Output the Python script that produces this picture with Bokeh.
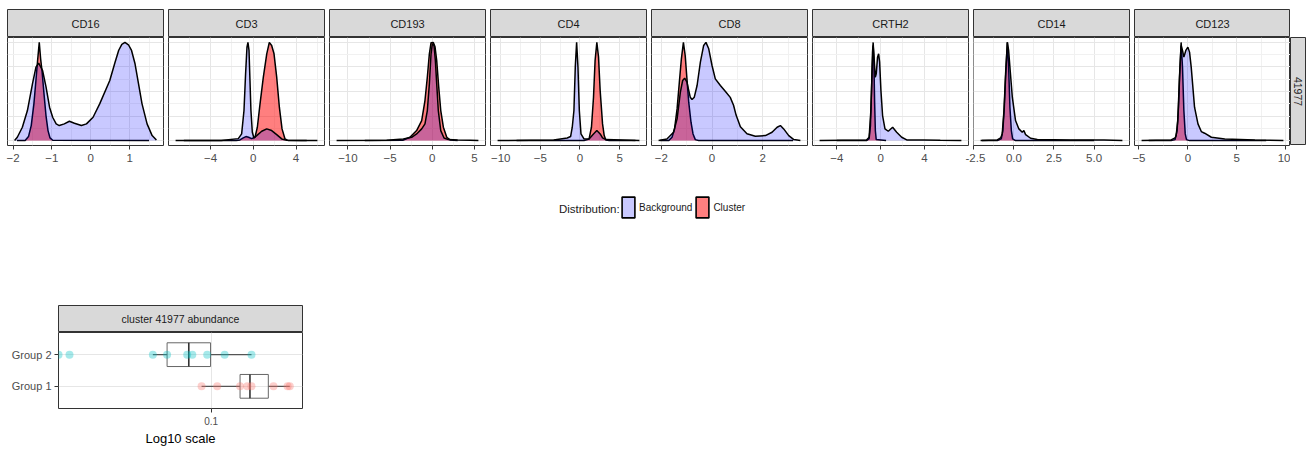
import numpy as np
from bokeh.plotting import figure
from bokeh.models import (Range1d, FixedTicker, Grid, Label, Legend, LegendItem,
                          FactorRange, Spacer)
from bokeh.layouts import row, column
from bokeh.embed import file_html
from bokeh.resources import INLINE

FONT = "Liberation Sans"

# ---------------- data ----------------
markers = ["CD16", "CD3", "CD193", "CD4", "CD8", "CRTH2", "CD14", "CD123"]
cluster_id = "41977"

cd16_bg_x = [-1.96, -1.89, -1.76, -1.63, -1.50, -1.41, -1.34, -1.24, -1.15, -1.06, -0.98, -0.89, -0.81,
             -0.68, -0.55, -0.42, -0.24, -0.11, 0.06, 0.23, 0.49, 0.62, 0.72, 0.80, 0.88, 0.97, 1.05,
             1.14, 1.23, 1.32, 1.45, 1.58, 1.69]
cd16_bg_y = [0.0, 0.034, 0.136, 0.306, 0.578, 0.748, 0.789, 0.714, 0.544, 0.340, 0.238, 0.170, 0.153,
             0.170, 0.197, 0.177, 0.153, 0.170, 0.238, 0.374, 0.612, 0.79, 0.92, 0.98, 1.0, 0.976, 0.918,
             0.782, 0.578, 0.374, 0.17, 0.051, 0.005]
cd16_cl_x = [-1.90, -1.688, -1.602, -1.532, -1.463, -1.411, -1.368, -1.325, -1.290, -1.255, -1.203,
             -1.152, -1.100, -1.048, -0.978, 1.5]
cd16_cl_y = [0, 0, 0.041, 0.153, 0.374, 0.612, 0.816, 1.0, 0.833, 0.714, 0.476, 0.255, 0.102, 0.027,
             0.003, 0]

cd3_bg_x = [-7.27, -3.0, -1.40, -1.09, -0.87, -0.72, -0.59, -0.50, -0.40, -0.31, -0.22, -0.09, 0.06,
            0.32, 0.79, 1.26, 1.72, 2.19, 2.66, 3.13, 4.5, 6.0]
cd3_bg_y = [0, 0.002, 0.02, 0.068, 0.306, 0.68, 0.952, 1.0, 0.918, 0.612, 0.306, 0.085, 0.027, 0.051,
            0.095, 0.119, 0.102, 0.061, 0.017, 0.003, 0.002, 0]
cd3_cl_x = [-6.5, -1.6, -1.25, -0.94, -0.69, -0.44, -0.16, 0.16, 0.38, 0.63, 0.94, 1.26, 1.50, 1.72,
            1.94, 2.19, 2.44, 2.69, 2.97, 3.28, 5.0]
cd3_cl_y = [0, 0, 0.007, 0.027, 0.041, 0.034, 0.02, 0.034, 0.136, 0.374, 0.646, 0.884, 1.0, 0.969,
            0.884, 0.646, 0.340, 0.119, 0.017, 0, 0]

cd193_bg_x = [-11.34, -5.41, -3.44, -2.45, -1.86, -1.26, -0.87, -0.59, -0.35, -0.15, 0.0, 0.20, 0.36,
              0.52, 0.71, 1.0, 1.39, 1.90, 3.0, 4.5, 5.46]
cd193_bg_y = [0, 0.003, 0.017, 0.034, 0.068, 0.119, 0.170, 0.306, 0.578, 0.884, 0.986, 0.969, 0.816,
              0.578, 0.306, 0.102, 0.027, 0.01, 0.005, 0.004, 0]
cd193_cl_x = [-8.0, -3.5, -2.65, -1.86, -1.26, -0.87, -0.59, -0.35, -0.15, 0.12, 0.32, 0.52, 0.76, 1.0,
              1.31, 1.71, 2.10, 3.0]
cd193_cl_y = [0, 0.003, 0.034, 0.102, 0.204, 0.408, 0.646, 0.884, 0.997, 1.0, 0.956, 0.816, 0.544,
              0.306, 0.136, 0.034, 0.007, 0]

cd4_bg_x = [-10.39, -3.31, -1.61, -1.18, -0.97, -0.76, -0.59, -0.42, -0.25, -0.08, 0.13, 0.51, 1.15,
            1.71, 2.13, 2.55, 2.85, 3.27, 7.5]
cd4_bg_y = [0, 0.007, 0.027, 0.041, 0.136, 0.306, 0.748, 1.0, 0.748, 0.306, 0.068, 0.017, 0.017,
            0.068, 0.102, 0.068, 0.027, 0.01, 0]
cd4_cl_x = [-8.0, 0.51, 1.15, 1.45, 1.71, 1.91, 2.13, 2.34, 2.55, 2.85, 3.06, 3.27, 3.7, 7.0]
cd4_cl_y = [0, 0, 0.017, 0.136, 0.442, 0.816, 1.0, 0.854, 0.510, 0.170, 0.051, 0.007, 0, 0]

cd8_bg_x = [-2.11, -1.78, -1.52, -1.38, -1.25, -1.16, -1.08, -0.99, -0.92, -0.86, -0.79, -0.70, -0.59,
            -0.46, -0.33, -0.24, -0.13, 0.0, 0.13, 0.33, 0.53, 0.72, 0.85, 0.95, 1.12, 1.38, 1.71,
            2.11, 2.37, 2.57, 2.70, 2.83, 3.03, 3.23, 3.49]
cd8_bg_y = [0, 0.017, 0.085, 0.221, 0.493, 0.612, 0.636, 0.595, 0.51, 0.442, 0.418, 0.442, 0.561,
            0.799, 0.969, 1.0, 0.935, 0.765, 0.629, 0.561, 0.50, 0.44, 0.36, 0.26, 0.14, 0.07, 0.044,
            0.051, 0.085, 0.136, 0.153, 0.119, 0.051, 0.01, 0]
cd8_cl_x = [-2.05, -1.715, -1.58, -1.48, -1.38, -1.29, -1.21, -1.13, -1.06, -0.99, -0.92, -0.83,
            -0.75, -0.66, -0.53, 3.2]
cd8_cl_y = [0, 0, 0.034, 0.119, 0.323, 0.595, 0.833, 1.0, 0.867, 0.629, 0.391, 0.187, 0.068, 0.01,
            0, 0]

crth2_bg_x = [-5.58, -1.29, -1.05, -0.89, -0.77, -0.68, -0.59, -0.49, -0.40, -0.28, -0.18, -0.09,
              0.03, 0.18, 0.40, 0.70, 1.10, 1.47, 1.93, 2.39, 3.92, 5.46, 7.39]
crth2_bg_y = [0, 0.007, 0.034, 0.306, 0.748, 0.969, 0.833, 0.646, 0.680, 0.850, 0.884, 0.799, 0.510,
              0.255, 0.119, 0.095, 0.136, 0.085, 0.034, 0.007, 0.007, 0.003, 0]
crth2_cl_x = [-4.0, -1.29, -1.05, -0.93, -0.83, -0.74, -0.68, -0.62, -0.55, -0.48, -0.40, 0.5]
crth2_cl_y = [0, 0, 0.02, 0.15, 0.5, 0.9, 1.0, 0.85, 0.4, 0.1, 0.01, 0]

cd14_bg_x = [-2.08, -1.04, -0.83, -0.73, -0.62, -0.52, -0.41, -0.33, -0.25, -0.10, 0.10, 0.31, 0.52,
             0.62, 0.73, 1.04, 1.46, 3.54, 5.62, 6.77]
cd14_bg_y = [0, 0.007, 0.027, 0.068, 0.306, 0.680, 1.0, 0.918, 0.748, 0.442, 0.204, 0.119, 0.085,
             0.102, 0.061, 0.024, 0.01, 0.007, 0.007, 0]
cd14_cl_x = [-2.0, -1.04, -0.79, -0.69, -0.60, -0.52, -0.41, -0.33, -0.25, -0.16, -0.08, 0.10, 5.0]
cd14_cl_y = [0, 0, 0.017, 0.102, 0.340, 0.646, 1.0, 0.748, 0.340, 0.102, 0.017, 0, 0]

cd123_bg_x = [-4.73, -1.72, -1.31, -1.20, -1.03, -0.86, -0.69, -0.55, -0.41, -0.21, 0.0, 0.17, 0.34,
              0.68, 1.03, 1.37, 1.71, 2.40, 3.77, 6.85, 9.76]
cd123_bg_y = [0, 0.007, 0.027, 0.051, 0.204, 0.646, 0.969, 0.918, 0.850, 0.918, 0.952, 0.901, 0.748,
              0.340, 0.170, 0.092, 0.075, 0.034, 0.017, 0.007, 0]
cd123_cl_x = [-4.0, -1.72, -1.31, -1.10, -0.96, -0.82, -0.69, -0.55, -0.41, -0.27, -0.14, 0.17, 8.0]
cd123_cl_y = [0, 0, 0.01, 0.102, 0.340, 0.714, 1.0, 0.748, 0.306, 0.068, 0.01, 0, 0]

# x tick labels of each facet
cd16_ticks = [-2, -1, 0, 1]
cd3_ticks = [-4, 0, 4]
cd193_ticks = [-10, -5, 0, 5]
cd4_ticks = [-10, -5, 0, 5]
cd8_ticks = [-2, 0, 2]
crth2_ticks = [-4, 0, 4]
cd14_ticks = [-2.5, 0.0, 2.5, 5.0]
cd123_ticks = [-5, 0, 5, 10]
density_ticks = [0, 0.25, 0.5, 0.75, 1.0]

# abundance box plot (log10 scale)
group_names = ["Group 1", "Group 2"]
group1_values = [0.0946, 0.1035, 0.118, 0.123, 0.126, 0.143, 0.155, 0.157]
group2_values = [0.0416, 0.0443, 0.0715, 0.0776, 0.0871, 0.0897, 0.0977, 0.108, 0.126]
box_q1 = [0.118, 0.0776]
box_median = [0.1249, 0.0879]
box_q3 = [0.1388, 0.0996]
box_lower = [0.0946, 0.0715]
box_upper = [0.157, 0.126]
abundance_ticks = [0.1]

legend_labels = ["Background", "Cluster"]

panels = [
    (cd16_bg_x, cd16_bg_y, cd16_cl_x, cd16_cl_y, cd16_ticks),
    (cd3_bg_x, cd3_bg_y, cd3_cl_x, cd3_cl_y, cd3_ticks),
    (cd193_bg_x, cd193_bg_y, cd193_cl_x, cd193_cl_y, cd193_ticks),
    (cd4_bg_x, cd4_bg_y, cd4_cl_x, cd4_cl_y, cd4_ticks),
    (cd8_bg_x, cd8_bg_y, cd8_cl_x, cd8_cl_y, cd8_ticks),
    (crth2_bg_x, crth2_bg_y, crth2_cl_x, crth2_cl_y, crth2_ticks),
    (cd14_bg_x, cd14_bg_y, cd14_cl_x, cd14_cl_y, cd14_ticks),
    (cd123_bg_x, cd123_bg_y, cd123_cl_x, cd123_cl_y, cd123_ticks),
]

# ---------------- styling ----------------
BG_COLOR, BG_ALPHA = "blue", 0.21
CL_COLOR, CL_ALPHA = "red", 0.5
STRIP_FILL = "#D9D9D9"
BORDER = "#333333"
GRID_MAJOR = "#E6E6E6"
GRID_MINOR = "#F1F1F1"
TICK_TEXT = "#4D4D4D"
LINE_W = 1.5
FW = 156      # facet frame width
PH = 108      # facet frame height


def midpoints(t, lo, hi):
    step = t[1] - t[0]
    cand = [t[0] - step / 2] + [a + step / 2 for a in t]
    return [c for c in cand if lo < c < hi]


def base_fig(**kw):
    opts = dict(toolbar_location=None, output_backend="svg", title=None,
                border_fill_color=None)
    opts.update(kw)
    return figure(**opts)


def strip_fig(text, width, height, bl, br, bt, angle=0.0, size="11px"):
    s = base_fig(width=width, height=height, x_range=Range1d(0, 1), y_range=Range1d(0, 1),
                 min_border_left=bl, min_border_right=br, min_border_top=bt,
                 min_border_bottom=0, x_axis_location=None, y_axis_location=None,
                 background_fill_color=STRIP_FILL, outline_line_color=BORDER)
    s.grid.visible = False
    s.add_layout(Label(x=0.5, y=0.5, text=text, angle=angle, text_align="center",
                       text_baseline="middle", text_font=FONT,
                       text_font_size=size, text_color="#1A1A1A"))
    return s


cols = []
for i, (name, (bx, by, cx, cy, ticks)) in enumerate(zip(markers, panels)):
    bl = 7 if i == 0 else 8
    br = 0 if i == 7 else 7
    w = bl + FW + br
    span = max(bx) - min(bx)
    x0, x1 = min(bx) - 0.05 * span, max(bx) + 0.05 * span

    strip = strip_fig(name, w, 37, bl, br, 9)

    p = base_fig(width=w, height=PH + 30, x_range=Range1d(x0, x1),
                 y_range=Range1d(-0.05, 1.05), min_border_left=bl, min_border_right=br,
                 min_border_top=0, min_border_bottom=30, y_axis_location=None,
                 background_fill_color="white", outline_line_color=BORDER)
    p.ygrid.visible = False
    xt = FixedTicker(ticks=ticks, minor_ticks=midpoints(ticks, x0, x1))
    p.xaxis.ticker = xt
    p.xgrid.ticker = xt
    p.xgrid.grid_line_color = GRID_MAJOR
    p.xgrid.minor_grid_line_color = GRID_MINOR
    p.add_layout(Grid(dimension=1,
                      ticker=FixedTicker(ticks=density_ticks,
                                         minor_ticks=[0.125, 0.375, 0.625, 0.875]),
                      grid_line_color=GRID_MAJOR, minor_grid_line_color=GRID_MINOR))
    ax = p.xaxis[0]
    ax.axis_line_color = None
    ax.minor_tick_line_color = None
    ax.major_tick_line_color = BORDER
    ax.major_tick_out = 4
    ax.major_tick_in = 0
    ax.major_label_standoff = 4
    ax.major_label_text_font = FONT
    ax.major_label_text_font_size = "11.5px"
    ax.major_label_text_color = TICK_TEXT
    if name == "CD14":
        ax.major_label_overrides = {t: f"{t:.1f}" for t in ticks}

    p.varea(x=cx, y1=0, y2=cy, fill_color=CL_COLOR, fill_alpha=CL_ALPHA)
    p.line(x=cx, y=cy, line_color="black", line_width=LINE_W)
    p.varea(x=bx, y1=0, y2=by, fill_color=BG_COLOR, fill_alpha=BG_ALPHA)
    p.line(x=bx, y=by, line_color="black", line_width=LINE_W)

    kw = {} if i == 0 else {"margin": (0, 0, 0, -10)}
    cols.append(column(strip, p, **kw))

# right-hand facet strip with cluster id
rs = strip_fig(cluster_id, 16, PH, 0, 1, 0, angle=-np.pi / 2, size="10.5px")
cols.append(column(Spacer(width=16, height=37), rs))
top_row = row(*cols)

# ---------------- legend ----------------
LH = 130
lf = base_fig(width=1309, height=LH, x_range=Range1d(0, 1309), y_range=Range1d(0, LH),
              min_border_left=0, min_border_right=0, min_border_top=0,
              min_border_bottom=0, x_axis_location=None, y_axis_location=None,
              outline_line_color=None, background_fill_color=None)
lf.grid.visible = False
r_bg = lf.quad(left=[np.nan], right=[np.nan], top=[np.nan], bottom=[np.nan],
               fill_color=BG_COLOR, fill_alpha=BG_ALPHA, line_color="black", line_width=1.6)
r_cl = lf.quad(left=[np.nan], right=[np.nan], top=[np.nan], bottom=[np.nan],
               fill_color=CL_COLOR, fill_alpha=CL_ALPHA, line_color="black", line_width=1.6)
leg = Legend(items=[LegendItem(label=legend_labels[0], renderers=[r_bg]),
                    LegendItem(label=legend_labels[1], renderers=[r_cl])],
             orientation="horizontal", location=(562, 85), padding=0, margin=0, spacing=2,
             label_standoff=3, glyph_width=16, glyph_height=26, border_line_color=None,
             background_fill_alpha=0, label_text_font=FONT, label_text_font_size="10px",
             label_text_color="#1A1A1A")
lf.add_layout(leg)
lf.add_layout(Label(x=591, y=LH - 33, text="Distribution:", text_align="right",
                    text_baseline="middle", text_font=FONT, text_font_size="11.5px",
                    text_color="#1A1A1A"))

# ---------------- abundance box plot ----------------
BW = 310
bstrip = strip_fig(f"cluster {cluster_id} abundance", BW, 27, 58, 8, 0, size="10.5px")

bf = base_fig(width=BW, height=76 + 50, x_axis_type="log", x_range=Range1d(0.04159, 0.1689),
              y_range=FactorRange(factors=group_names, range_padding=0.2,
                                  range_padding_units="absolute"),
              min_border_left=58, min_border_right=8, min_border_top=0, min_border_bottom=50,
              background_fill_color="white", outline_line_color=BORDER)
bf.xaxis.ticker = FixedTicker(ticks=abundance_ticks)
bf.xgrid.ticker = FixedTicker(ticks=abundance_ticks)
bf.xaxis.major_label_overrides = {t: f"{t:g}" for t in abundance_ticks}
bf.xgrid.grid_line_color = GRID_MAJOR
bf.xgrid.minor_grid_line_color = None
bf.ygrid.grid_line_color = GRID_MAJOR
for a in (bf.xaxis[0], bf.yaxis[0]):
    a.axis_line_color = None
    a.minor_tick_line_color = None
    a.major_tick_line_color = BORDER
    a.major_tick_out = 4
    a.major_tick_in = 0
    a.major_label_text_font = FONT
    a.major_label_text_color = TICK_TEXT
bf.xaxis.major_label_text_font_size = "10px"
bf.xaxis.major_label_standoff = 4
bf.yaxis.major_label_text_font_size = "11px"
bf.yaxis.major_label_standoff = 3
bf.xaxis.axis_label = "Log10 scale"
bf.xaxis.axis_label_text_font = FONT
bf.xaxis.axis_label_text_font_size = "13px"
bf.xaxis.axis_label_text_font_style = "normal"
bf.xaxis.axis_label_text_color = "black"
bf.xaxis.axis_label_standoff = 3

bf.segment(x0=box_lower, y0=group_names, x1=box_q1, y1=group_names, line_color="#555555",
           line_width=1.2)
bf.segment(x0=box_q3, y0=group_names, x1=box_upper, y1=group_names, line_color="#555555",
           line_width=1.2)
bf.hbar(y=group_names, left=box_q1, right=box_q3, height=0.75, fill_color="white",
        fill_alpha=0, line_color="#666666", line_width=1)
bf.rect(x=box_median, y=group_names, width=1.6, width_units="screen", height=0.75,
        fill_color="#333333", line_color=None)
bf.scatter(x=group1_values, y=["Group 1"] * len(group1_values), size=8,
           fill_color="#F8766D", fill_alpha=0.35, line_color=None)
bf.scatter(x=group2_values, y=["Group 2"] * len(group2_values), size=8,
           fill_color="#00BFC4", fill_alpha=0.35, line_color=None)

layout = column(top_row, lf, bstrip, bf)
open("out.html", "w").write(file_html(layout, INLINE))
